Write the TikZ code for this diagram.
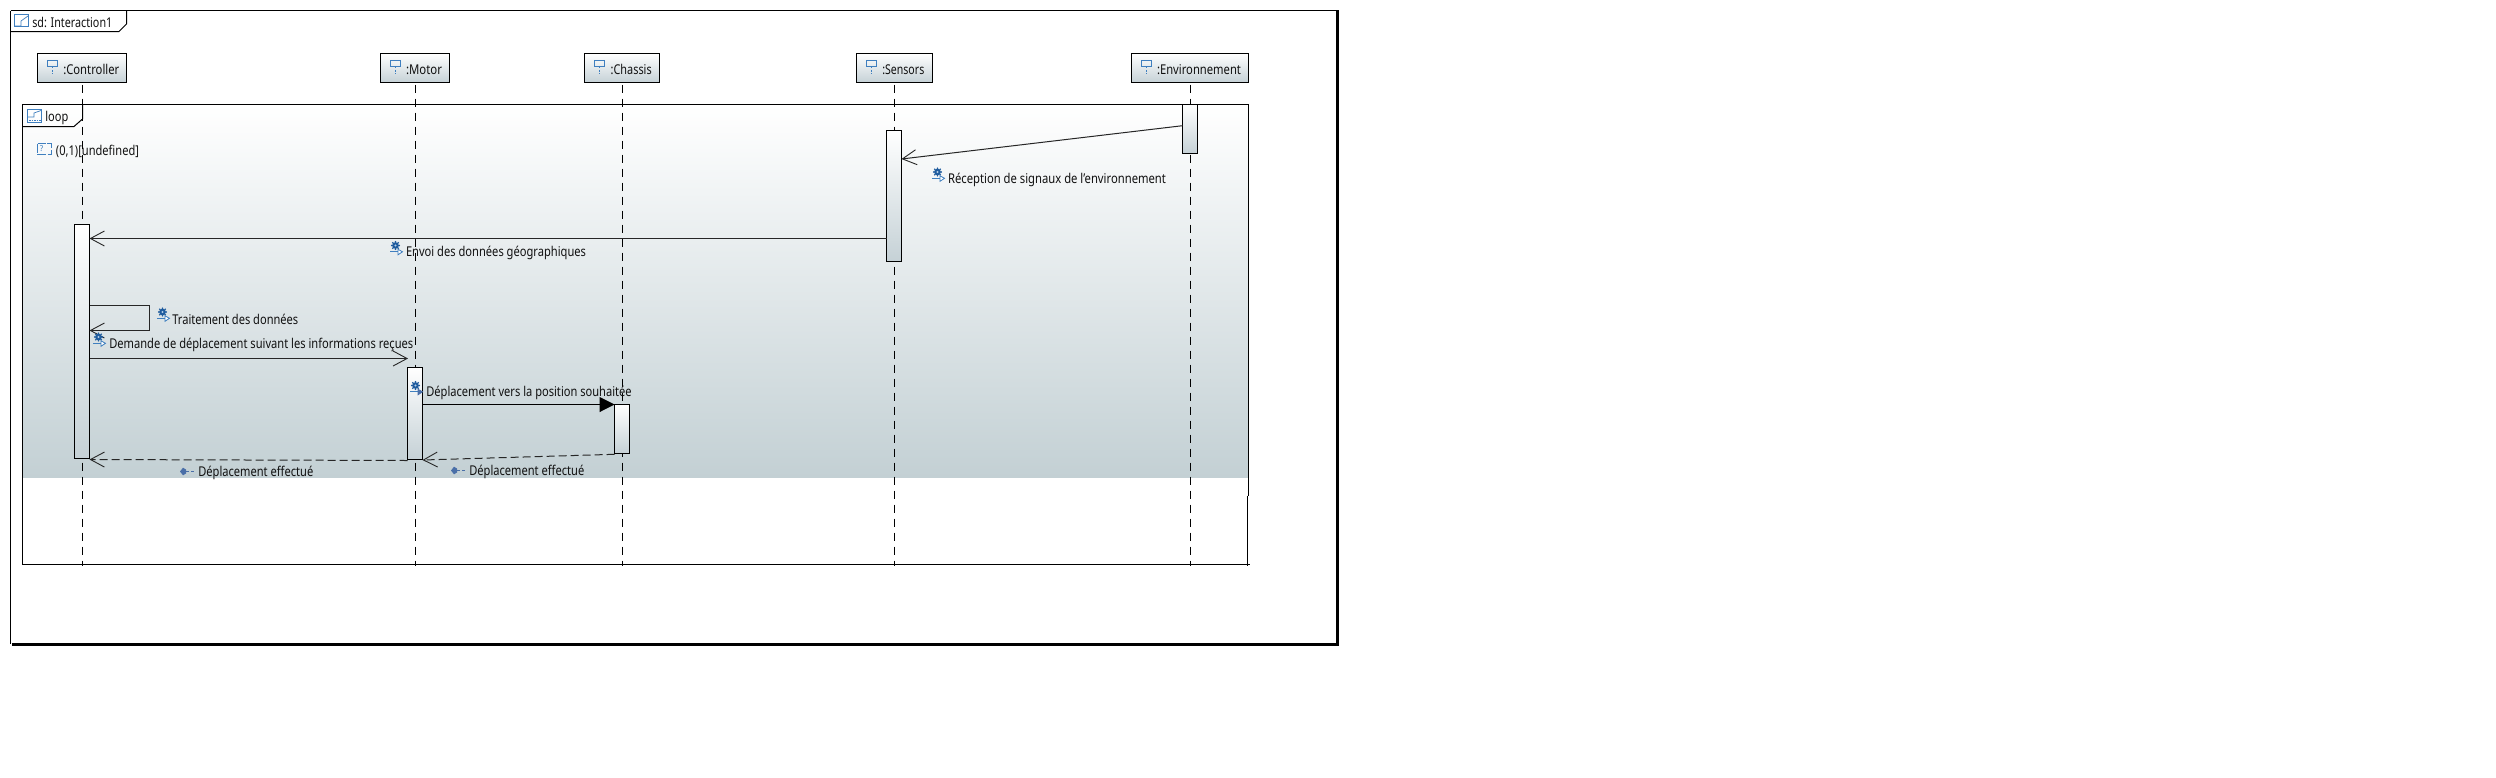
\documentclass[tikz,border=0pt]{standalone}
\usepackage{fontspec}
\usepackage{graphicx}
\setmainfont{Noto Sans}
\usetikzlibrary{arrows.meta,calc}
\definecolor{shadeend}{HTML}{C3D0D4}
\definecolor{headend}{HTML}{C5D1D6}
\definecolor{iconblue}{HTML}{3F7FBF}
\definecolor{geardark}{HTML}{1F5C9E}
\definecolor{retblue}{HTML}{4A6FA8}
\definecolor{txt}{HTML}{111111}
\newcommand{\fw}[2]{\resizebox{#1pt}{\height}{#2}}
\tikzset{
  x=1pt,y=-1pt,
  every node/.style={inner sep=0pt,outer sep=0pt,font=\fontsize{13.5}{15}\selectfont,text=txt},
  line/.style={draw=black,line width=1pt},
  headbox/.style={line,rectangle,minimum height=29pt,top color=white,bottom color=headend},
  barbox/.style={line,rectangle,minimum width=15pt,top color=white,bottom color=headend},
  lifeline/.style={draw=black,line width=1pt,dash pattern=on 8pt off 6pt},
  msg/.style={draw=black!85,line width=1pt,-{Straight Barb[length=14pt,width=15pt,line width=0.9pt]}},
  ret/.style={msg,dash pattern=on 8pt off 4pt},
  sync/.style={draw=black,line width=1pt,-{Triangle[length=15pt,width=15pt,fill=black]}},
  lbl/.style={anchor=west},
  iconln/.style={draw=iconblue,line width=.9pt},
  lifeicon/.pic={
    \draw[draw=iconblue,line width=.9pt] (-5.2,-5.2) rectangle (5.2,0.3);
    \draw[draw=iconblue,line width=.9pt,dash pattern=on 2pt off 1.5pt] (0,0.3) -- (0,8);
  },
  opicon/.pic={
    \fill[geardark] (0,-3.5) circle (3.4pt);
    \foreach \a in {0,45,...,315}{\fill[geardark] (0,-3.5) ++(\a:3.8pt) circle (0.9pt);}
    \fill[white!60!iconblue] (0,-3.5) circle (1.2pt);
    \draw[iconln] (-5.5,2.8) -- (2.5,2.8);
    \draw[draw=iconblue,fill=white,line width=.8pt] (2.5,0.3) -- (7,2.8) -- (2.5,5.8) -- cycle;
  },
  opiconf/.pic={
    \fill[geardark] (0,-3.5) circle (3.4pt);
    \foreach \a in {0,45,...,315}{\fill[geardark] (0,-3.5) ++(\a:3.8pt) circle (0.9pt);}
    \fill[white!60!iconblue] (0,-3.5) circle (1.2pt);
    \draw[iconln] (-5.5,2.8) -- (2.5,2.8);
    \draw[draw=retblue,fill=retblue,line width=.8pt] (2.5,0.3) -- (7,2.8) -- (2.5,5.8) -- cycle;
  },
  reticon/.pic={
    \fill[retblue] (0,0) -- (3,-3.8) -- (6,-2) -- (6,2) -- (3,3.8) -- cycle;
    \draw[draw=retblue,line width=1pt,dash pattern=on 3pt off 2pt] (6,0) -- (15,0);
  },
}
\begin{document}
\begin{tikzpicture}
\useasboundingbox (0,0) rectangle (2496,777);
\fill[white] (0,0) rectangle (2496,777);

% outer frame
\coordinate (oTL) at (10.5,10.5);
\coordinate (oBR) at (1337.5,644);
\fill[white] (oTL) rectangle (oBR);
\draw[line] (oTL) -- (oTL -| oBR);
\draw[line] (oTL) -- (oTL |- oBR);
\draw[draw=black,line width=3pt] (1337.5,10) -- (1337.5,644.5) -- (12,644.5);
% sd tab
\draw[line] (10.5,31.5) -- (119,31.5) -- (126.5,24) -- (126.5,10.5);
\draw[draw=iconblue,line width=.9pt] (14.5,14.5) rectangle (28.5,26.5);
\draw[draw=iconblue,line width=.7pt] (14.5,26) -- (21,26) -- (21,21) -- (28,16);
\node[lbl] (sdlabel) at (32.3,22.5) {\fw{80}{sd: Interaction1}};

% loop fragment
\shade[top color=white,bottom color=shadeend] (22.5,104.5) rectangle (1248,477.7);
\draw[line] (22.5,564.5) -- (22.5,104.5) -- (1248.5,104.5) -- (1248.5,495.7);
\draw[line] (22.5,564.5) -- (1250,564.5);
\draw[line] (1247.5,495.7) -- (1247.5,566);
\draw[line] (22.5,126.5) -- (74,126.5) -- (82.5,119) -- (82.5,104.5);
\draw[draw=iconblue,line width=.9pt] (27.5,109.5) rectangle (41.5,122.5);
\draw[draw=iconblue,line width=.7pt] (28,117) -- (34,117) -- (34,113) -- (41,110.5);
\draw[draw=iconblue,line width=.9pt,dash pattern=on 1.5pt off 1pt] (29,120) -- (41,120);
\node[lbl] (looplabel) at (45.3,118) {\fw{23}{loop}};
% guard
\draw[draw=iconblue,line width=.9pt,dash pattern=on 9pt off 1.5pt] (37.5,143.5) rectangle (51.5,154.5);
\node[text=iconblue,font=\fontsize{8}{9}\selectfont] (guardq) at (41.5,149) {?};
\node[lbl] (guard) at (56,151) {\fw{83}{(0,1)[undefined]}};

% lifeline heads
\node[headbox,minimum width=89pt] (hC) at (82,68) {};
\node[headbox,minimum width=69pt] (hM) at (415,68) {};
\node[headbox,minimum width=75pt] (hH) at (622,68) {};
\node[headbox,minimum width=76pt] (hS) at (894.5,68) {};
\node[headbox,minimum width=117pt] (hE) at (1190,68) {};
\pic at (52.7,66) {lifeicon};
\pic at (395.7,66) {lifeicon};
\pic at (599.7,66) {lifeicon};
\pic at (871.7,66) {lifeicon};
\pic at (1146.7,66) {lifeicon};
\node[lbl] (tC) at (63.3,69.5) {\fw{56}{:Controller}};
\node[lbl] (tM) at (406,69.5) {\fw{36}{:Motor}};
\node[lbl] (tH) at (610.7,69.5) {\fw{41}{:Chassis}};
\node[lbl] (tS) at (882.3,69.5) {\fw{42}{:Sensors}};
\node[lbl] (tE) at (1157,69.5) {\fw{84}{:Environnement}};

% lifelines
\coordinate (lifeend) at (0,566);
\coordinate (cC) at (82.5,82.5);
\coordinate (cM) at (415.5,82.5);
\coordinate (cH) at (622.5,82.5);
\coordinate (cS) at (894.5,82.5);
\coordinate (cE) at (1190.5,82.5);
\foreach \c in {cC,cM,cH,cS,cE}{\draw[lifeline] ($(\c)+(0,2)$) -- (\c |- lifeend);}

% activation bars
\node[barbox,minimum height=234pt] (bC) at (82,341.5) {};
\node[barbox,minimum height=92pt] (bM) at (415,413.5) {};
\node[barbox,minimum height=49pt] (bH) at (622,429) {};
\node[barbox,minimum height=131pt] (bS) at (894,196) {};
\node[barbox,minimum height=49pt] (bE) at (1190,129) {};

% messages
\draw[msg] (bE.west |- 0,125.7) -- (bS.east |- 0,159);
\draw[msg] (bS.west |- 0,238.5) -- (bC.east |- 0,238.5);
\draw[msg] (bC.east |- 0,305.5) -- (149.5,305.5) -- (149.5,330.5) -- (bC.east |- 0,330.5);
\draw[msg] (bC.east |- 0,358.5) -- (408,358.5);
\draw[sync] (bM.east |- 0,404.5) -- (bH.west |- 0,404.5);
\draw[ret] (bH.west |- 0,454.3) -- (bM.east |- 0,460);
\draw[ret] (bM.west |- 0,460.5) -- (bC.east |- 0,459.5);

% labels
\pic at (937.5,175.5) {opicon};
\node[lbl] (m1) at (948,179.7) {\fw{218}{Réception de signaux de l'environnement}};
\pic at (395.5,249) {opicon};
\node[lbl] (m2) at (406,253) {\fw{180}{Envoi des données géographiques}};
\pic at (162.5,315.5) {opicon};
\node[lbl] (m3) at (172.3,319.7) {\fw{126}{Traitement des données}};
\pic at (98.5,340.5) {opicon};
\node[lbl] (m4) at (109.3,344.7) {\fw{304}{Demande de déplacement suivant les informations reçues}};
\pic at (415.5,389) {opiconf};
\node[lbl] (m5) at (426.3,393) {\fw{205.4}{Déplacement vers la position souhaitée}};
\pic at (180,471.5) {reticon};
\node[lbl] (m6) at (198.3,472.7) {\fw{115}{Déplacement effectué}};
\pic at (451,470.5) {reticon};
\node[lbl] (m7) at (469.3,471.7) {\fw{115}{Déplacement effectué}};
\end{tikzpicture}
\end{document}
